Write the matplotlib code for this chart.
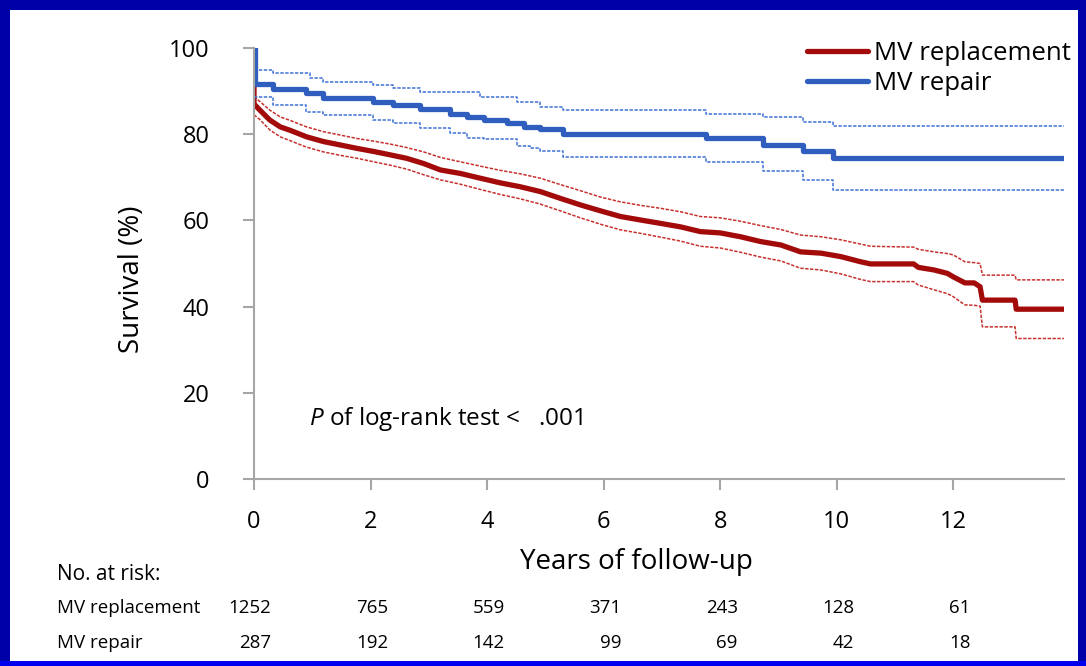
import matplotlib.pyplot as plt
import matplotlib.transforms as mtransforms
from matplotlib.patches import Rectangle

plt.rcParams['font.family'] = ['Open Sans', 'DejaVu Sans']
plt.rcParams['mathtext.fontset'] = 'custom'
plt.rcParams['mathtext.it'] = 'Open Sans:italic'
plt.rcParams['mathtext.rm'] = 'Open Sans'

# MV replacement: Kaplan-Meier estimate with 95% CI
red_t = [0, 0, 0.1, 0.27, 0.45, 0.62, 0.9, 1.19, 1.48, 1.77, 2.05, 2.34, 2.62, 2.91,
         3.2, 3.54, 3.88, 4.23, 4.57, 4.91, 5.26, 5.6, 5.95, 6.29, 6.63, 6.98, 7.32,
         7.66, 8.0, 8.35, 8.69, 9.04, 9.38, 9.73, 10.07, 10.41, 10.58, 11.32, 11.4,
         11.67, 11.9, 12.0, 12.2, 12.36, 12.46, 12.5, 13.06, 13.08, 13.9]
red_surv = [100, 87.0, 85.6, 83.3, 81.7, 80.9, 79.4, 78.3, 77.5, 76.7, 76.0, 75.2, 74.4, 73.2,
            71.7, 70.9, 69.8, 68.7, 67.8, 66.7, 65.1, 63.6, 62.2, 60.9, 60.1, 59.3, 58.5,
            57.4, 57.1, 56.2, 55.1, 54.3, 52.7, 52.4, 51.6, 50.4, 49.9, 49.9, 49.1,
            48.5, 47.7, 46.9, 45.5, 45.5, 44.6, 41.5, 41.5, 39.4, 39.4]
red_upper = [88.7, 88.7, 87.6, 85.6, 84.0, 83.2, 81.7, 80.6, 79.8, 79.0, 78.4, 77.7, 76.9, 75.9,
             74.6, 73.6, 72.6, 71.6, 70.8, 69.8, 68.3, 66.9, 65.4, 64.3, 63.5, 62.8, 62.0,
             60.9, 60.6, 59.8, 58.8, 57.9, 56.6, 56.2, 55.5, 54.5, 54.0, 53.8, 53.3,
             52.7, 52.3, 52.0, 50.4, 50.2, 50.0, 47.3, 47.3, 46.2, 46.2]
red_lower = [84.5, 84.5, 83.4, 81.0, 79.4, 78.5, 77.0, 75.9, 75.1, 74.4, 73.6, 72.8, 71.9, 70.6,
             69.4, 68.4, 67.2, 66.0, 65.0, 63.8, 62.2, 60.6, 59.1, 57.8, 57.0, 56.1, 55.2,
             54.0, 53.6, 52.6, 51.5, 50.6, 48.9, 48.5, 47.6, 46.3, 45.8, 45.8, 45.0,
             43.9, 43.0, 42.3, 40.4, 40.3, 40.1, 35.3, 35.3, 32.6, 32.6]

# MV repair: step times and values
blue_t = [0, 0.02, 0.33, 0.9, 1.19, 2.05, 2.39, 2.85, 3.37, 3.65, 3.94, 4.34, 4.63, 4.91,
          5.31, 7.75, 8.73, 9.42, 9.93, 13.9]
blue_surv = [100, 91.6, 90.4, 89.5, 88.3, 87.5, 86.7, 85.8, 84.7, 83.9, 83.3, 82.5, 81.7, 81.1,
             80.0, 79.2, 77.6, 76.2, 74.4, 74.4]
blue_up_t = [0, 0.33, 0.96, 1.19, 2.05, 2.39, 2.85, 3.88, 4.51, 4.91, 5.31, 7.75, 8.73, 9.42,
             9.93, 13.9]
blue_upper = [94.9, 94.1, 93.0, 92.0, 91.3, 90.8, 89.9, 88.6, 87.4, 86.4, 85.6, 84.7, 83.9, 82.9,
              81.9, 81.9]
blue_lo_t = [0, 0.33, 0.9, 1.19, 2.05, 2.39, 2.85, 3.37, 3.65, 3.94, 4.51, 4.74, 4.91, 5.31,
             7.75, 8.73, 9.42, 9.93, 13.9]
blue_lower = [88.6, 86.8, 85.2, 84.5, 83.3, 82.5, 81.4, 80.2, 79.2, 78.8, 77.3, 76.7, 76.0, 74.8,
              73.5, 71.5, 69.4, 67.1, 67.1]

risk_years = [0, 2, 4, 6, 8, 10, 12]
risk_replacement = [1252, 765, 559, 371, 243, 128, 61]
risk_repair = [287, 192, 142, 99, 69, 42, 18]

red = '#A30B0B'
red_ci = '#C8302E'
blue = '#2F5EBE'
blue_ci = '#3F72D6'
axis_grey = '#A6A6A6'

W, H = 1086, 666
fig = plt.figure(figsize=(W / 100, H / 100), dpi=100)
fig.patch.set_facecolor('#0000A8')
fig.patches.append(Rectangle((10 / W, 1 - 661 / H), 1068 / W, 651 / H, transform=fig.transFigure,
                             facecolor='white', edgecolor='none', zorder=-2))
fig.patches.append(Rectangle((0, 0), 1, 5 / H, transform=fig.transFigure,
                             facecolor='#0000EE', edgecolor='none', zorder=-2))

ax = fig.add_axes([254 / W, 1 - 479 / H, 810 / W, 431 / H])
ax.set_facecolor('none')

# red first, blue drawn on top
ax.plot(red_t, red_upper, color=red_ci, lw=1.1, ls=(0, (2.2, 1)))
ax.plot(red_t, red_lower, color=red_ci, lw=1.1, ls=(0, (2.2, 1)))
ax.plot(red_t, red_surv, color=red, lw=3.8, solid_capstyle='round', label='MV replacement')
ax.plot(blue_up_t, blue_upper, color=blue_ci, lw=1.1, ls=(0, (2.2, 1)), drawstyle='steps-post')
ax.plot(blue_lo_t, blue_lower, color=blue_ci, lw=1.1, ls=(0, (2.2, 1)), drawstyle='steps-post')
ax.plot(blue_t, blue_surv, color=blue, lw=3.8, drawstyle='steps-post', solid_capstyle='round',
        label='MV repair')

ax.set_xlim(0, 13.9)
ax.set_ylim(0, 100)
ax.set_xticks(range(0, 13, 2))
ax.set_yticks(range(0, 101, 20))
for s in ['top', 'right']:
    ax.spines[s].set_visible(False)
for s in ['left', 'bottom']:
    ax.spines[s].set_color(axis_grey)
    ax.spines[s].set_linewidth(1.5)
ax.tick_params(axis='both', colors=axis_grey, labelcolor='black', labelsize=17,
               length=8, width=1.5)
ax.tick_params(axis='y', pad=24)
ax.tick_params(axis='x', pad=14)

leg = ax.legend(loc='upper right', bbox_to_anchor=(1084 / W, 1 - 28 / H),
                bbox_transform=fig.transFigure, frameon=False, fontsize=18.5,
                handlelength=2.35, handletextpad=0.25, labelspacing=0.2, borderpad=0)

fig.text(132 / W, 1 - 279 / H, 'Survival (%)', rotation=90, ha='center', va='center', fontsize=20)
fig.text(636 / W, 1 - 562 / H, 'Years of follow-up', ha='center', va='center', fontsize=20)
fig.text(309 / W, 1 - 419 / H, '$\\it{P}$ of log-rank test <   .001', ha='left', va='center',
         fontsize=17.5)

fig.text(57 / W, 1 - 575 / H, 'No. at risk:', ha='left', va='center', fontsize=15)
fig.text(57 / W, 1 - 608 / H, 'MV replacement', ha='left', va='center', fontsize=13.5)
fig.text(57 / W, 1 - 643 / H, 'MV repair', ha='left', va='center', fontsize=13.5)
trans = mtransforms.blended_transform_factory(ax.transData, fig.transFigure)
for yr, n1, n2 in zip(risk_years, risk_replacement, risk_repair):
    ax.text(yr + 0.3, 1 - 608 / H, str(n1), transform=trans, ha='right', va='center',
            fontsize=13.5, clip_on=False)
    ax.text(yr + 0.3, 1 - 643 / H, str(n2), transform=trans, ha='right', va='center',
            fontsize=13.5, clip_on=False)

fig.savefig('out.png', dpi=100, facecolor=fig.get_facecolor())
